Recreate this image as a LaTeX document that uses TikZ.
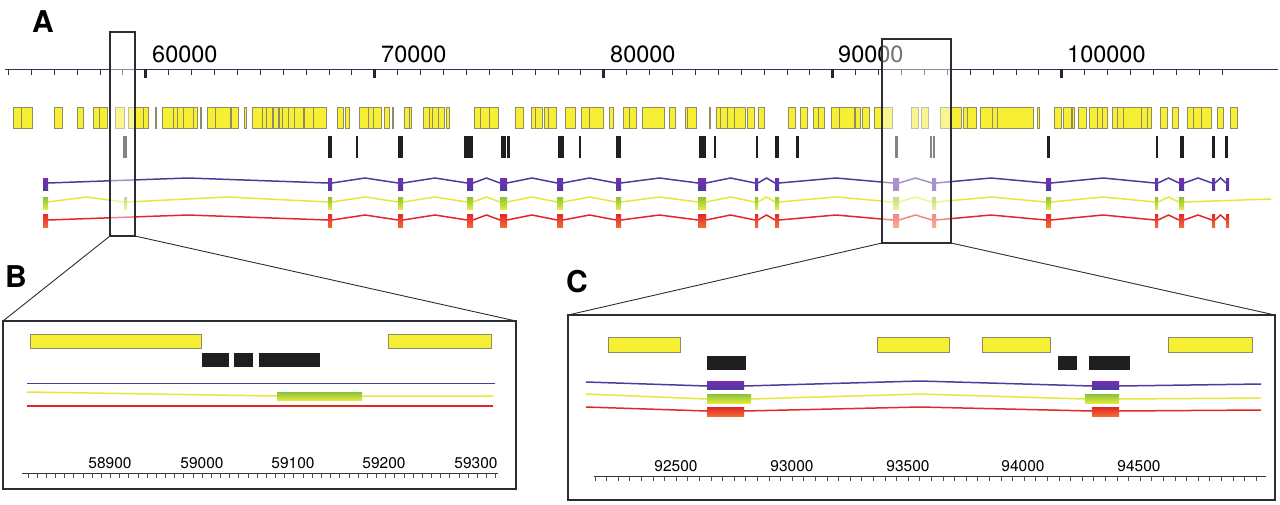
\documentclass[tikz,border=0pt]{standalone}
\usepackage{fontspec}
\setmainfont{TeX Gyre Heros}
\usetikzlibrary{positioning}
\definecolor{hityellow}{HTML}{F7EF33}
\definecolor{hitedge}{HTML}{8E8A6A}
\definecolor{axisblue}{HTML}{2E3060}
\definecolor{tpurple}{HTML}{4B3C9E}
\definecolor{tyellow}{HTML}{E4E83A}
\definecolor{tgreen}{HTML}{86C23E}
\definecolor{tred}{HTML}{E3262B}
\definecolor{torange}{HTML}{EF6B33}
\definecolor{framegray}{HTML}{2C2C34}

\begin{document}
\begin{tikzpicture}[x=1pt,y=-1pt,
    hit/.style={fill=hityellow,draw=hitedge,line width=0.5pt},
    est/.style={fill=black!88},
    tline/.style={line width=1.5pt},
    exonp/.style={top color=tpurple!75!magenta,bottom color=tpurple},
    exong/.style={top color=tgreen,bottom color=tyellow},
    exonr/.style={top color=tred,bottom color=torange},
    zoombox/.style={draw=framegray,line width=1.4pt,fill=white,fill opacity=0.45,
      inner sep=0pt,outer sep=0pt},
    panelbox/.style={draw=framegray,line width=1.6pt,inner sep=0pt,outer sep=0pt},
    panellabel/.style={font=\fontsize{30}{30}\selectfont\bfseries,inner sep=0pt,anchor=base west},
    axislabel/.style={font=\fontsize{23.5}{24}\selectfont,inner sep=0pt,anchor=base west},
    rulerlabel/.style={font=\fontsize{15.5}{16}\selectfont,inner sep=0pt,anchor=base}]
  \useasboundingbox (0,0) rectangle (1280,504);

  % panel A: coordinate axis
  \node[panellabel] (labA) at (32,32) {A};
  \draw[axisblue,line width=1pt] (5,69) -- (1278,69);
  \foreach \i in {0,...,53}
    \draw[black!80,line width=0.8pt] (8.3+22.9*\i,69) -- ++(0,6);
  \foreach \i in {6,16,26,36,46}
    \draw[black!85,line width=2.6pt] (8.3+22.9*\i,69) -- ++(0,9);
  \node[axislabel] (k60) at (152,62) {60000};
  \node[axislabel] (k70) at (381,62) {70000};
  \node[axislabel] (k80) at (610,62) {80000};
  \node[axislabel] (k90) at (838,62) {90000};
  \node[axislabel] (k100) at (1067,62) {100000};

  % database hits
  \foreach \a/\b in {13/21,21/32,54/62,77/83,93/99,99/107,115/124,128/135,135/143,
      143/148,155/156,162/173,173/177,177/183,183/193,193/197,200/201,207/215,215/230,
      231/238,244/246,252/262,262/266,266/272,273/278,279/282,282/288,288/294,294/303,
      304/313,313/326,337/343,345/349,359/368,368/373,373/381,384/389,392/393,404/409,
      409/411,423/429,429/432,432/438,438/444,446/449,474/480,480/489,489/498,515/523,
      531/535,535/542,544/548,548/556,565/575,581/589,589/603,609/613,623/629,629/636,
      642/664,669/675,685/687,687/696,709/710,716/720,720/727,727/734,734/745,747/754,
      758/764,788/795,800/807,813/818,818/824,831/839,839/854,855/860,862/869,874/881,
      881/892,911/918,921/928,940/950,950/961,963/967,967/976,980/992,992/997,997/1033,
      1037/1039,1054/1061,1063/1071,1072/1074,1078/1086,1089/1097,1097/1102,1102/1107,
      1112/1117,1117/1123,1123/1141,1141/1147,1147/1151,1160/1167,1172/1178,1187/1193,
      1193/1201,1201/1211,1217/1223,1230/1237}
    \draw[hit] (\a,107) rectangle (\b,128);

  % ESTs
  \foreach \a/\b in {123/127,328/332,356/358,398/403,464/473,501/506,507/510,558/564,
      579/581,616/621,699/706,714/715.5,756/758,775/779,796/799,895/898,930/932,
      933/935,1047/1050,1156/1158,1180/1184,1212/1215,1225/1228}
    \fill[est] (\a,136) rectangle (\b,158);

  % transcripts
  \fill[exonp] (43,178) rectangle (48,190);
  \foreach \a/\b [remember=\b as \c (initially 48)] in {328/332,398/403,467/473,
      500/507,557/563,616/621,698/706,755/758,775/779,893/899,932/936,1046/1051,
      1155/1158,1179/1184,1212/1215,1226/1229} {
    \draw[tline,tpurple] (\c,183) -- ({(\c+\a)/2},178) -- (\a,183);
    \fill[exonp] (\a,178) rectangle (\b,190);
  }
  \fill[exong] (43,197) rectangle (48,209);
  \foreach \a/\b [remember=\b as \c (initially 48)] in {124/127,328/332,398/403,
      467/473,500/507,557/563,616/621,698/706,755/758,775/779,893/899,932/936,
      1046/1051,1155/1158,1179/1184} {
    \draw[tline,tyellow] (\c,202) -- ({(\c+\a)/2},197) -- (\a,202);
    \fill[exong] (\a,197) rectangle (\b,209);
  }
  \draw[tline,tyellow] (1184,202) -- (1271,199);
  \fill[exonr] (43,214) rectangle (48,227);
  \foreach \a/\b [remember=\b as \c (initially 48)] in {328/332,398/403,467/473,
      500/507,557/563,616/621,698/706,755/758,775/779,893/899,932/936,1046/1051,
      1155/1158,1179/1184,1212/1215,1226/1229} {
    \draw[tline,tred] (\c,220) -- ({(\c+\a)/2},215) -- (\a,220);
    \fill[exonr] (\a,214) rectangle (\b,227);
  }

  % zoomed regions
  \node[zoombox,minimum width=25,minimum height=204] (boxB) at (122.5,134) {};
  \node[zoombox,minimum width=69,minimum height=204] (boxC) at (916.5,141) {};

  % panel B
  \node[panellabel] (labB) at (5,287) {B};
  \node[panelbox,minimum width=513,minimum height=168] (panelB) at (259.5,405) {};
  \draw[framegray,line width=0.9pt] (boxB.south west) -- (panelB.north west);
  \draw[framegray,line width=0.9pt] (boxB.south east) -- (panelB.north east);
  \draw[hit] (30,334) rectangle (201,348);
  \draw[hit] (388,334) rectangle (491,348);
  \fill[est] (202,353) rectangle (229,367);
  \fill[est] (234,353) rectangle (253,367);
  \fill[est] (259,353) rectangle (320,367);
  \draw[tline,tpurple] (27,383.5) -- (495,383.5);
  \draw[tline,tyellow] (27,392) -- (277,396) -- (493,396);
  \fill[exong] (277,392) rectangle (362,400);
  \draw[tline,tred] (27,406) -- (493,406);
  \draw[black!80,line width=0.8pt] (22,473) -- (498,473);
  \foreach \i in {0,...,51}
    \draw[black!70,line width=0.5pt] (27.8+9.17*\i,473) -- ++(0,4.5);
  \node[rulerlabel] (b1) at (110,468) {58900};
  \node[rulerlabel] (b2) at (202,468) {59000};
  \node[rulerlabel] (b3) at (293,468) {59100};
  \node[rulerlabel] (b4) at (384,468) {59200};
  \node[rulerlabel] (b5) at (476,468) {59300};

  % panel C
  \node[panellabel] (labC) at (566,292) {C};
  \node[panelbox,minimum width=707,minimum height=185] (panelC) at (921.5,407.5) {};
  \draw[framegray,line width=0.9pt] (boxC.south west) -- (panelC.north west);
  \draw[framegray,line width=0.9pt] (boxC.south east) -- (panelC.north east);
  \foreach \a/\b in {608/680,877/949,982/1050,1168/1252}
    \draw[hit] (\a,337) rectangle (\b,352);
  \foreach \a/\b in {707/746,1058/1077,1089/1130}
    \fill[est] (\a,356) rectangle (\b,370);
  \draw[tline,tpurple] (586,382) -- (707,386) (744,386) -- (920,381) -- (1092,386)
    (1119,386) -- (1261,384);
  \fill[exonp] (707,381) rectangle (744,389);
  \fill[exonp] (1092,381) rectangle (1119,389);
  \draw[tline,tyellow] (586,394) -- (707,399) (751,399) -- (920,394) -- (1085,399)
    (1119,399) -- (1261,398);
  \fill[exong] (707,394) rectangle (751,403);
  \fill[exong] (1085,394) rectangle (1119,403);
  \draw[tline,tred] (586,407) -- (707,411) (744,411) -- (920,407) -- (1092,411)
    (1119,411) -- (1261,410);
  \fill[exonr] (707,407) rectangle (744,416);
  \fill[exonr] (1092,407) rectangle (1119,416);
  \draw[black!80,line width=0.8pt] (594,476) -- (1266,476);
  \foreach \i in {0,...,57}
    \draw[black!70,line width=0.5pt] (594.8+11.6*\i,476) -- ++(0,4.5);
  \node[rulerlabel] (c1) at (676,471) {92500};
  \node[rulerlabel] (c2) at (792,471) {93000};
  \node[rulerlabel] (c3) at (908,471) {93500};
  \node[rulerlabel] (c4) at (1023,471) {94000};
  \node[rulerlabel] (c5) at (1139,471) {94500};
\end{tikzpicture}
\end{document}
